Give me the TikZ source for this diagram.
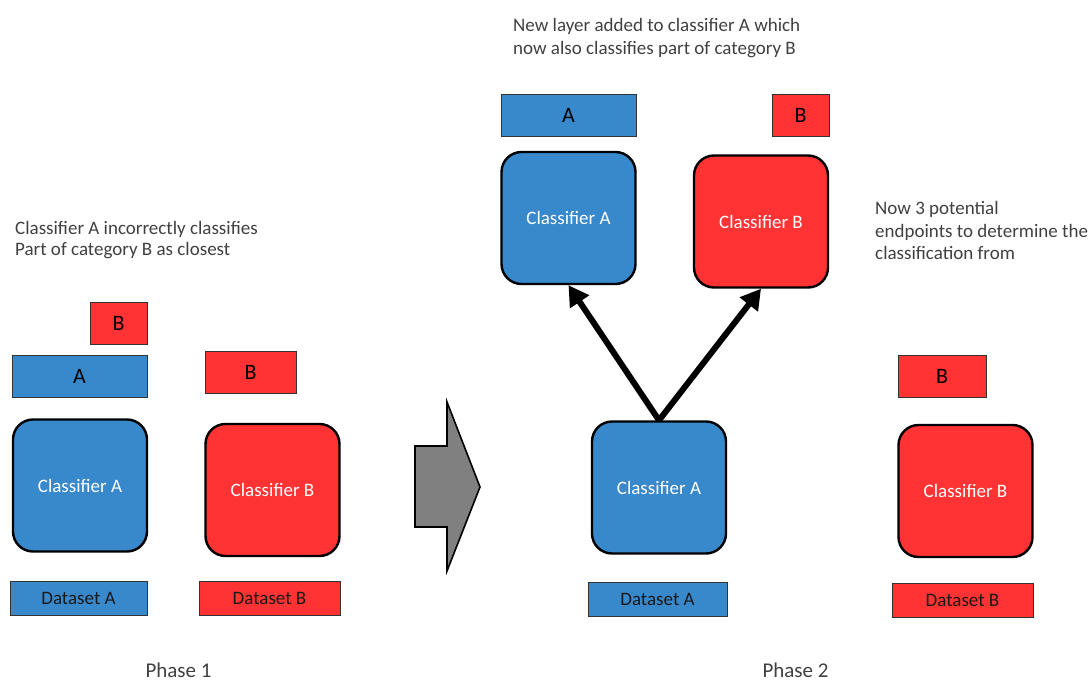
\documentclass[tikz,border=0pt]{standalone}
\usepackage{fontspec}
\setmainfont{Carlito}
\usetikzlibrary{arrows.meta}
\definecolor{cblue}{RGB}{56,136,204}
\definecolor{cred}{RGB}{255,51,51}
\definecolor{cgray}{RGB}{128,128,128}
\definecolor{ctext}{RGB}{64,64,64}
\begin{document}
\begin{tikzpicture}[x=1pt,y=-1pt,
  lab/.style={draw=black!80,line width=0.8pt,minimum width=#1,inner sep=0pt,minimum height=42pt,font=\fontsize{22}{26}\selectfont},
  labA/.style={lab=#1,fill=cblue},
  labB/.style={lab=#1,fill=cred},
  cls/.style={draw=black,line width=2.4pt,rounded corners=20pt,minimum width=134pt,minimum height=132pt,inner sep=0pt,text=white,font=\fontsize{19}{23}\selectfont},
  clsA/.style={cls,fill=cblue},
  clsB/.style={cls,fill=cred},
  ds/.style={draw=black!80,line width=0.8pt,minimum width=#1,minimum height=34pt,inner sep=0pt,text=black!90,font=\fontsize{19}{23}\selectfont},
  dsA/.style={ds=#1,fill=cblue},
  dsB/.style={ds=#1,fill=cred},
  note/.style={anchor=base west,inner sep=0pt,text=ctext,font=\fontsize{19}{23}\selectfont},
  phase/.style={anchor=base,inner sep=0pt,text=ctext,font=\fontsize{21}{25}\selectfont},
  bigarrow/.style={line width=6pt,-{Triangle[length=20pt,width=22pt]}}
]
\useasboundingbox (0,0) rectangle (1089,682);
% Phase 1
\node[labB=57pt] (b1s) at (118.5,323.5) {B};
\node[labA=135pt] (a1) at (79.5,376) {A};
\node[labB=91pt] (b1) at (250.5,372) {B};
\node[clsA] (ca1) at (80,485.5) {Classifier A};
\node[clsB] (cb1) at (272.5,490) {Classifier B};
\node[dsA=137pt] (da1) at (78.5,598) {Dataset A};
\node[dsB=141pt] (db1) at (269.5,598) {Dataset B};
\node[note] (t1a) at (15,234) {Classifier A incorrectly classifies};
\node[note] (t1b) at (15,255) {Part of category B as closest};
\node[phase] (p1) at (178.5,677) {Phase 1};
% transition arrow
\draw[fill=cgray,line width=1.6pt,line join=miter] (415,446) -- (447,446) -- (447,402) -- (480,487) -- (447,571) -- (447,527) -- (415,527) -- cycle;
% Phase 2
\node[labA=135pt] (a2) at (568.5,115) {A};
\node[labB=57pt] (b2) at (800.5,115) {B};
\node[clsA] (ca2t) at (568.5,218) {Classifier A};
\node[clsB] (cb2t) at (761,221.5) {Classifier B};
\node[clsA] (ca2) at (659,487.5) {Classifier A};
\node[dsA=139pt] (da2) at (657.5,599.5) {Dataset A};
\node[labB=88pt] (b3) at (942,376) {B};
\node[clsB] (cb3) at (965.5,491) {Classifier B};
\node[dsB=141pt] (db3) at (962.5,600) {Dataset B};
\draw[bigarrow] (ca2.north) -- (ca2t.south);
\draw[bigarrow] (ca2.north) -- (cb2t.south);
\node[note] (t2a) at (513,32) {New layer added to classifier A which};
\node[note] (t2b) at (513,55) {now also classifies part of category B};
\node[note] (t3a) at (875,214) {Now 3 potential};
\node[note] (t3b) at (875,237) {endpoints to determine the};
\node[note] (t3c) at (875,259) {classification from};
\node[phase] (p2) at (795.5,677) {Phase 2};
\end{tikzpicture}
\end{document}
